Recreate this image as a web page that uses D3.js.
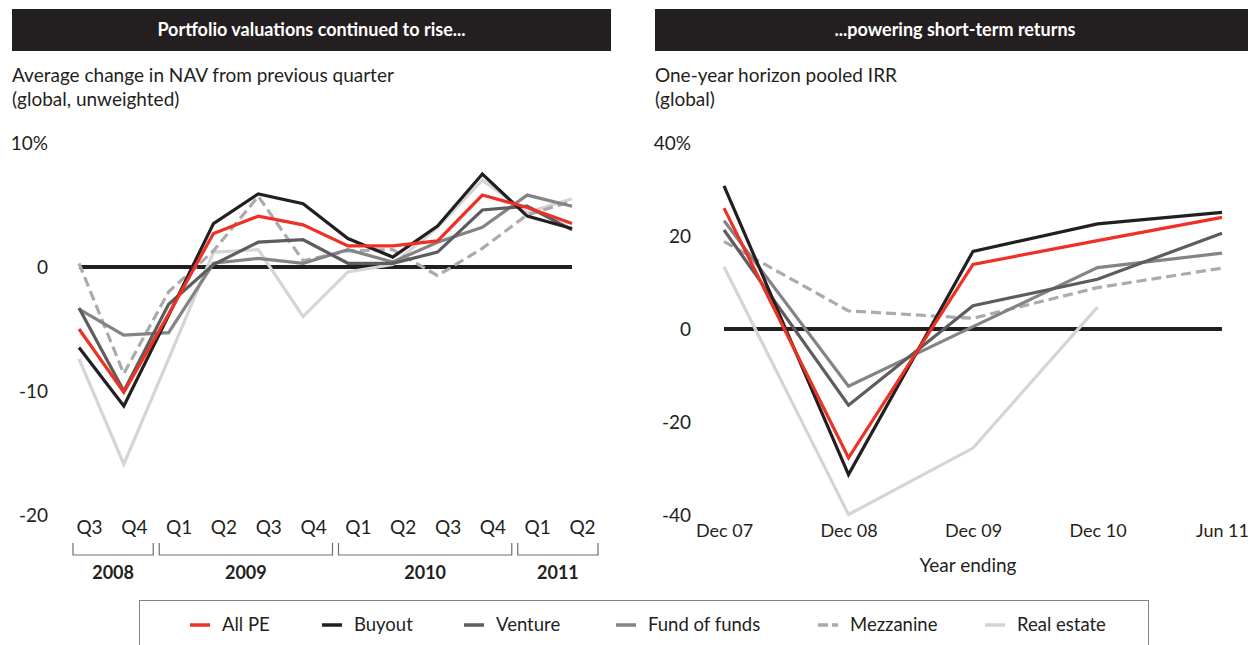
<!DOCTYPE html>
<html>
<head>
<meta charset="utf-8">
<script src="https://cdn.jsdelivr.net/npm/d3@7"></script>
<style>
  body { margin: 0; background: #fff; }
  svg text { font-family: Lato, "Open Sans", sans-serif; fill: #231f20; }
</style>
</head>
<body>
<div id="container"></div>
<script>
const WIDTH = 1248;
const HEIGHT = 645;
const INK = "#231f20";
const FONT_SIZE = 19;

// left panel: quarterly NAV change (%)
var QUARTERS = ["Q3", "Q4", "Q1", "Q2", "Q3", "Q4", "Q1", "Q2", "Q3", "Q4", "Q1", "Q2"];
var YEARS = [{name: "2008", from: 0, to: 1}, {name: "2009", from: 2, to: 5},
    {name: "2010", from: 6, to: 9}, {name: "2011", from: 10, to: 11}];
var NAV_ALL_PE = [-5.0, -10.1, -3.8, 2.7, 4.1, 3.4, 1.7, 1.7, 2.1, 5.8, 4.8, 3.5];
var NAV_BUYOUT = [-6.5, -11.2, -3.9, 3.5, 5.9, 5.1, 2.3, 0.8, 3.3, 7.5, 4.1, 3.1];
var NAV_VENTURE = [-3.3, -10.0, -3.0, 0.2, 2.0, 2.2, 0.3, 0.3, 1.2, 4.6, 4.9, 3.0];
var NAV_FOF = [-3.4, -5.5, -5.3, 0.3, 0.7, 0.3, 1.4, 0.4, 2.0, 3.2, 5.8, 4.9];
var NAV_MEZZ = [0.3, -8.6, -2.0, 1.3, 5.7, 0.5, 1.3, 1.4, -0.7, 1.5, 4.2, 5.3];
var NAV_REAL_ESTATE = [-7.4, -15.9, -7.4, 1.2, 1.4, -4.0, -0.4, 0.2, 3.2, 7.0, 4.4, 5.5];
var NAV_TICKS = [10, 0, -10, -20];

// right panel: one-year horizon pooled IRR (%)
var PERIODS = ["Dec 07", "Dec 08", "Dec 09", "Dec 10", "Jun 11"];
var IRR_ALL_PE = [26.0, -27.7, 13.9, 19.0, 24.0];
var IRR_BUYOUT = [30.8, -31.3, 16.7, 22.6, 25.1];
var IRR_VENTURE = [21.3, -16.4, 5.0, 10.7, 20.6];
var IRR_FOF = [23.3, -12.3, 0.5, 13.2, 16.3];
var IRR_MEZZ = [18.8, 3.9, 2.3, 8.9, 13.1];
var IRR_REAL_ESTATE = [13.4, -39.9, -25.6, 4.7, null];
var IRR_TICKS = [40, 20, 0, -20, -40];

var SERIES = [
    {name: "All PE", color: "#ee3124", nav: NAV_ALL_PE, irr: IRR_ALL_PE},
    {name: "Buyout", color: INK, nav: NAV_BUYOUT, irr: IRR_BUYOUT},
    {name: "Venture", color: "#5d5d5f", nav: NAV_VENTURE, irr: IRR_VENTURE},
    {name: "Fund of funds", color: "#848487", nav: NAV_FOF, irr: IRR_FOF},
    {name: "Mezzanine", color: "#a9abae", nav: NAV_MEZZ, irr: IRR_MEZZ, dashed: true},
    {name: "Real estate", color: "#d4d5d6", nav: NAV_REAL_ESTATE, irr: IRR_REAL_ESTATE}
];
// draw order: light lines underneath
var DRAW_ORDER = [5, 4, 3, 2, 1, 0];

var svg = d3.select("#container").append("svg")
    .attr("width", WIDTH)
    .attr("height", HEIGHT);

var drawHeader = function (x, w, title, sub1, sub2) {
    svg.append("rect").attr("x", x).attr("y", 9).attr("width", w).attr("height", 42).attr("fill", INK);
    svg.append("text").attr("x", x + w / 2).attr("y", 36)
        .attr("text-anchor", "middle").style("fill", "#fff")
        .attr("font-size", 18).attr("font-weight", "bold").text(title);
    svg.append("text").attr("x", x).attr("y", 82).attr("font-size", FONT_SIZE).text(sub1);
    svg.append("text").attr("x", x).attr("y", 106).attr("font-size", FONT_SIZE).text(sub2);
};

var styleTicks = function (g, size) {
    g.select(".domain").remove();
    g.selectAll("text").attr("font-size", size || FONT_SIZE)
        .attr("font-family", "Lato, sans-serif").style("fill", INK);
};

var drawYAxis = function (scale, x, ticks, top) {
    var axis = d3.axisLeft(scale).tickValues(ticks).tickSize(0).tickPadding(0)
        .tickFormat(function (d) { return d === top ? d + "%" : d; });
    svg.append("g").attr("transform", "translate(" + x + ",0)").call(axis).call(styleTicks);
};

var drawSeries = function (xScale, yScale, key) {
    var line = d3.line()
        .defined(function (d) { return d != null; })
        .x(function (d, i) { return xScale(i); })
        .y(function (d) { return yScale(d); });
    DRAW_ORDER.forEach(function (k) {
        var s = SERIES[k];
        svg.append("path").datum(s[key])
            .attr("d", line)
            .attr("fill", "none")
            .attr("stroke", s.color)
            .attr("stroke-width", 3.2)
            .attr("stroke-dasharray", s.dashed ? "10,5" : null);
    });
};

var drawZero = function (xScale, yScale, n) {
    svg.append("line")
        .attr("x1", xScale(0)).attr("x2", xScale(n - 1))
        .attr("y1", yScale(0)).attr("y2", yScale(0))
        .attr("stroke", INK).attr("stroke-width", 4);
};

// ---------- left panel ----------
drawHeader(12, 599, "Portfolio valuations continued to rise...",
    "Average change in NAV from previous quarter", "(global, unweighted)");

var navX = d3.scalePoint().domain(d3.range(QUARTERS.length)).range([79, 572]);
var navY = d3.scaleLinear().domain([-20, 10]).range([515, 143]);
var step = navX.step();

drawYAxis(navY, 48, NAV_TICKS, 10);
drawZero(navX, navY, QUARTERS.length);
drawSeries(navX, navY, "nav");

var qAxis = d3.axisBottom(navX).tickSize(0).tickPadding(0)
    .tickFormat(function (i) { return QUARTERS[i]; });
svg.append("g").attr("transform", "translate(10,520)").call(qAxis).call(styleTicks);

YEARS.forEach(function (yr) {
    var x0 = navX(yr.from) + 10 - (yr.from === 0 ? 16 : step / 2 - 3);
    var x1 = navX(yr.to) + 10 + (yr.to === QUARTERS.length - 1 ? 16 : step / 2 - 3);
    svg.append("path")
        .attr("d", "M" + x0 + ",543V555H" + x1 + "V543")
        .attr("fill", "none").attr("stroke", "#6d6e71").attr("stroke-width", 1.2);
    svg.append("text").attr("x", (x0 + x1) / 2).attr("y", 579)
        .attr("text-anchor", "middle").attr("font-size", 18).attr("font-weight", "bold")
        .text(yr.name);
});

// ---------- right panel ----------
drawHeader(655, 600, "...powering short-term returns", "One-year horizon pooled IRR", "(global)");

var irrX = d3.scalePoint().domain(d3.range(PERIODS.length)).range([724, 1222]);
var irrY = d3.scaleLinear().domain([-40, 40]).range([515, 143]);

drawYAxis(irrY, 691, IRR_TICKS, 40);
drawZero(irrX, irrY, PERIODS.length);
drawSeries(irrX, irrY, "irr");

var pAxis = d3.axisBottom(irrX).tickSize(0).tickPadding(0)
    .tickFormat(function (i) { return PERIODS[i]; });
svg.append("g").attr("transform", "translate(0,524)").call(pAxis).call(styleTicks, 18);

svg.append("text").attr("x", 968).attr("y", 572).attr("text-anchor", "middle")
    .attr("font-size", FONT_SIZE).text("Year ending");

// ---------- legend ----------
svg.append("rect").attr("x", 139.5).attr("y", 600.5).attr("width", 1009).attr("height", 60)
    .attr("fill", "none").attr("stroke", "#808285").attr("stroke-width", 1);

var LEGEND_X = [190, 322, 464, 616, 818, 985];
var legend = svg.selectAll(".legend").data(SERIES).enter().append("g")
    .attr("class", "legend")
    .attr("transform", function (d, i) { return "translate(" + LEGEND_X[i] + ",625)"; });
legend.append("line")
    .attr("x1", 0).attr("x2", 20).attr("y1", 0).attr("y2", 0)
    .attr("stroke", function (d) { return d.color; })
    .attr("stroke-width", 3.5)
    .attr("stroke-dasharray", function (d) { return d.dashed ? "10,4" : null; });
legend.append("text").attr("x", 32).attr("y", 6).attr("font-size", 18.5)
    .text(function (d) { return d.name; });
</script>
</body>
</html>
